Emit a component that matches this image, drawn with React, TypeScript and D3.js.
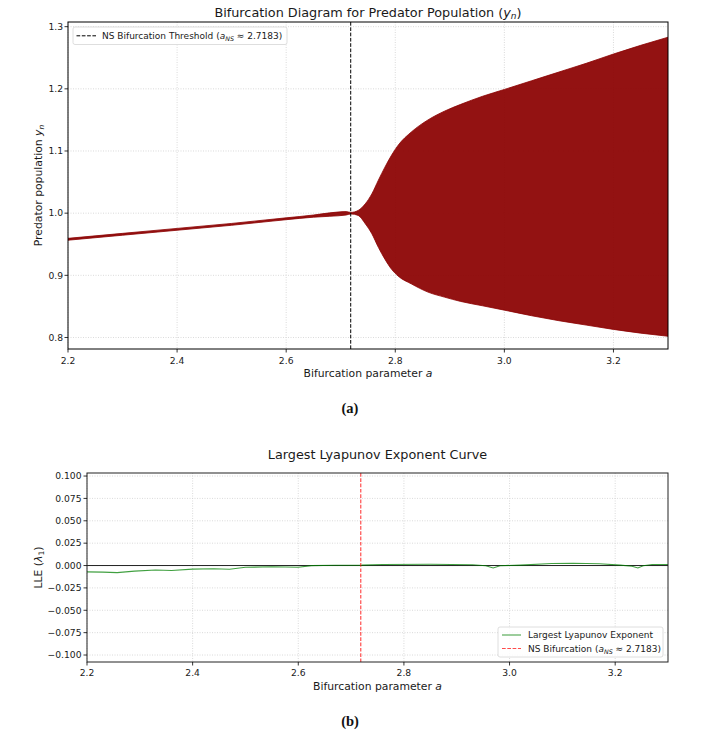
import React from "react";
import * as d3 from "d3";

// ---------- data ----------
const bifA = [2.2, 2.3, 2.4, 2.5, 2.6, 2.65, 2.68, 2.71, 2.7183, 2.732, 2.745, 2.757, 2.769, 2.781, 2.793, 2.805, 2.83, 2.86, 2.89, 2.92, 2.96, 3.0, 3.05, 3.1, 3.15, 3.2, 3.25, 3.3];
const bifUpper = [0.9595, 0.9675, 0.9755, 0.9835, 0.9925, 0.997, 1.0005, 1.0025, 1.0012, 1.0044, 1.015, 1.031, 1.053, 1.074, 1.093, 1.109, 1.131, 1.15, 1.164, 1.175, 1.188, 1.199, 1.213, 1.227, 1.241, 1.256, 1.27, 1.283];
const bifLower = [0.9565, 0.9645, 0.9725, 0.9805, 0.9895, 0.9935, 0.995, 0.997, 0.9988, 0.9964, 0.983, 0.967, 0.945, 0.926, 0.91, 0.899, 0.886, 0.873, 0.865, 0.858, 0.851, 0.844, 0.835, 0.827, 0.82, 0.813, 0.807, 0.802];

const lleA = [2.2, 2.23, 2.257, 2.29, 2.33, 2.36, 2.4, 2.44, 2.47, 2.5, 2.55, 2.6, 2.625, 2.67, 2.72, 2.76, 2.85, 2.93, 2.955, 2.969, 2.982, 3.02, 3.08, 3.12, 3.17, 3.21, 3.232, 3.243, 3.253, 3.27, 3.3];
const lleVals = [-0.0071, -0.0074, -0.0079, -0.0062, -0.005, -0.0055, -0.004, -0.0036, -0.0042, -0.002, -0.0014, -0.0019, -0.0001, 0.0003, 0.0005, 0.0012, 0.0014, 0.0008, -0.0002, -0.0027, -0.0002, 0.0005, 0.0022, 0.0026, 0.002, 0.0004, -0.0008, -0.0027, -0.0002, 0.0011, 0.0012];

const aNS = 2.7183;
const xTicks = [2.2, 2.4, 2.6, 2.8, 3.0, 3.2];
const yTicksTop = [0.8, 0.9, 1.0, 1.1, 1.2, 1.3];
const yTicksBottom = [-0.1, -0.075, -0.05, -0.025, 0, 0.025, 0.05, 0.075, 0.1];

const FONT = "DejaVu Sans, sans-serif";
const TXT = "#1a1a1a";
const GRID = "#d0d0d0";
const TITLE_FS = 12.8;
const LABEL_FS = 10.8;
const TICK_FS = 9.2;
const LEG_FS = 9;

const fmtMinus = (s: string) => s.replace("-", "\u2212");

function App() {
  // ---- top panel ----
  const T = { l: 68, r: 668, t: 22, b: 349 };
  const xT = d3.scaleLinear().domain([2.2, 3.3]).range([T.l, T.r]);
  const yT = d3.scaleLinear().domain([0.7815, 1.3075]).range([T.b, T.t]);
  const bifData = bifA.map((a, i) => ({ a, u: bifUpper[i], lo: bifLower[i] }));
  const area = d3
    .area<{ a: number; u: number; lo: number }>()
    .x((d) => xT(d.a))
    .y0((d) => yT(d.lo))
    .y1((d) => yT(d.u))
    .curve(d3.curveMonotoneX);

  // ---- bottom panel ----
  const B = { l: 87, r: 668, t: 473, b: 662 };
  const xB = d3.scaleLinear().domain([2.2, 3.3]).range([B.l, B.r]);
  const yB = d3.scaleLinear().domain([-0.1078, 0.1034]).range([B.b, B.t]);
  const lleLine = d3
    .line<number>()
    .x((_, i) => xB(lleA[i]))
    .y((d) => yB(d));

  return (
    <svg
      width={701}
      height={738}
      style={{ position: "absolute", left: 0, top: 0, background: "#fff" }}
      fontFamily={FONT}
    >
      <defs>
        <clipPath id="clipT">
          <rect x={T.l} y={T.t} width={T.r - T.l} height={T.b - T.t} />
        </clipPath>
        <clipPath id="clipB">
          <rect x={B.l} y={B.t} width={B.r - B.l} height={B.b - B.t} />
        </clipPath>
      </defs>

      {/* ================= TOP PANEL ================= */}
      <g>
        {xTicks.map((t) => (
          <line key={"gx" + t} x1={xT(t)} x2={xT(t)} y1={T.t} y2={T.b} stroke={GRID} strokeWidth={0.8} strokeDasharray="1,1.5" />
        ))}
        {yTicksTop.map((t) => (
          <line key={"gy" + t} x1={T.l} x2={T.r} y1={yT(t)} y2={yT(t)} stroke={GRID} strokeWidth={0.8} strokeDasharray="1,1.5" />
        ))}
        <path d={area(bifData) || ""} fill="#8b0000" fillOpacity={0.93} stroke="#8b0000" strokeWidth={0.8} clipPath="url(#clipT)" />
        <line x1={xT(aNS)} x2={xT(aNS)} y1={T.t} y2={T.b} stroke="#000" strokeWidth={1} strokeDasharray="3.7,1.6" />
        <rect x={T.l} y={T.t} width={T.r - T.l} height={T.b - T.t} fill="none" stroke="#000" strokeWidth={1} />
        {xTicks.map((t) => (
          <g key={"tx" + t}>
            <line x1={xT(t)} x2={xT(t)} y1={T.b} y2={T.b + 3.5} stroke="#000" strokeWidth={0.8} />
            <text x={xT(t)} y={T.b + 15} textAnchor="middle" fontSize={TICK_FS} fill={TXT}>
              {t.toFixed(1)}
            </text>
          </g>
        ))}
        {yTicksTop.map((t) => (
          <g key={"ty" + t}>
            <line x1={T.l - 3.5} x2={T.l} y1={yT(t)} y2={yT(t)} stroke="#000" strokeWidth={0.8} />
            <text x={T.l - 5} y={yT(t) + 3.3} textAnchor="end" fontSize={TICK_FS} fill={TXT}>
              {t.toFixed(1)}
            </text>
          </g>
        ))}
        <text x={(T.l + T.r) / 2} y={16.5} textAnchor="middle" fontSize={TITLE_FS} fill={TXT}>
          Bifurcation Diagram for Predator Population (
          <tspan fontStyle="italic">y</tspan>
          <tspan fontStyle="italic" fontSize={9} dy={2.7}>n</tspan>
          <tspan dy={-2.7}>)</tspan>
        </text>
        <text x={(T.l + T.r) / 2} y={376.5} textAnchor="middle" fontSize={LABEL_FS} fill={TXT}>
          Bifurcation parameter <tspan fontStyle="italic">a</tspan>
        </text>
        <text transform={`translate(41.5,${(T.t + T.b) / 2}) rotate(-90)`} textAnchor="middle" fontSize={LABEL_FS} fill={TXT}>
          Predator population <tspan fontStyle="italic">y</tspan>
          <tspan fontStyle="italic" fontSize={7.6} dy={2.4}>n</tspan>
        </text>
        <rect x={73} y={27} width={214} height={17.5} rx={2} fill="#fff" fillOpacity={0.85} stroke="#d5d5d5" strokeWidth={0.8} />
        <line x1={76.5} x2={96} y1={35.8} y2={35.8} stroke="#000" strokeWidth={1} strokeDasharray="3.7,1.6" />
        <text x={102} y={39} fontSize={LEG_FS} fill={TXT}>
          NS Bifurcation Threshold (<tspan fontStyle="italic">a</tspan>
          <tspan fontStyle="italic" fontSize={6.3} dy={2}>NS</tspan>
          <tspan dy={-2}> ≈ 2.7183)</tspan>
        </text>
        <text x={350} y={413} textAnchor="middle" fontFamily="Liberation Serif, serif" fontWeight="bold" fontSize={14.5} fill="#111">
          (a)
        </text>
      </g>

      {/* ================= BOTTOM PANEL ================= */}
      <g>
        {xTicks.map((t) => (
          <line key={"bgx" + t} x1={xB(t)} x2={xB(t)} y1={B.t} y2={B.b} stroke={GRID} strokeWidth={0.8} strokeDasharray="1,1.5" />
        ))}
        {yTicksBottom.map((t) => (
          <line key={"bgy" + t} x1={B.l} x2={B.r} y1={yB(t)} y2={yB(t)} stroke={GRID} strokeWidth={0.8} strokeDasharray="1,1.5" />
        ))}
        <line x1={B.l} x2={B.r} y1={yB(0)} y2={yB(0)} stroke="#222" strokeWidth={1} />
        <path d={lleLine(lleVals) || ""} fill="none" stroke="#008000" strokeOpacity={0.75} strokeWidth={1.1} clipPath="url(#clipB)" />
        <line x1={xB(aNS)} x2={xB(aNS)} y1={B.t} y2={B.b} stroke="#ff0000" strokeOpacity={0.7} strokeWidth={1.2} strokeDasharray="3.7,1.6" />
        <rect x={B.l} y={B.t} width={B.r - B.l} height={B.b - B.t} fill="none" stroke="#222" strokeWidth={1} />
        {xTicks.map((t) => (
          <g key={"btx" + t}>
            <line x1={xB(t)} x2={xB(t)} y1={B.b} y2={B.b + 3.5} stroke="#000" strokeWidth={0.8} />
            <text x={xB(t)} y={B.b + 13.8} textAnchor="middle" fontSize={TICK_FS} fill={TXT}>
              {t.toFixed(1)}
            </text>
          </g>
        ))}
        {yTicksBottom.map((t) => (
          <g key={"bty" + t}>
            <line x1={B.l - 3.5} x2={B.l} y1={yB(t)} y2={yB(t)} stroke="#000" strokeWidth={0.8} />
            <text x={B.l - 5.5} y={yB(t) + 3.3} textAnchor="end" fontSize={TICK_FS} fill={TXT}>
              {fmtMinus(t.toFixed(3))}
            </text>
          </g>
        ))}
        <text x={(B.l + B.r) / 2} y={459} textAnchor="middle" fontSize={TITLE_FS} fill={TXT}>
          Largest Lyapunov Exponent Curve
        </text>
        <text x={(B.l + B.r) / 2} y={689.5} textAnchor="middle" fontSize={LABEL_FS} fill={TXT}>
          Bifurcation parameter <tspan fontStyle="italic">a</tspan>
        </text>
        <text transform={`translate(41.5,${(B.t + B.b) / 2}) rotate(-90)`} textAnchor="middle" fontSize={LABEL_FS} fill={TXT}>
          LLE (<tspan fontStyle="italic">λ</tspan>
          <tspan fontSize={7.6} dy={2.4}>1</tspan>
          <tspan dy={-2.4}>)</tspan>
        </text>
        <rect x={498} y={627} width={165} height={30} rx={2} fill="#fff" fillOpacity={0.85} stroke="#d5d5d5" strokeWidth={0.8} />
        <line x1={502} x2={521} y1={635} y2={635} stroke="#008000" strokeOpacity={0.6} strokeWidth={1.3} />
        <text x={528} y={638.2} fontSize={LEG_FS} fill={TXT}>Largest Lyapunov Exponent</text>
        <line x1={502} x2={521} y1={648.5} y2={648.5} stroke="#ff0000" strokeOpacity={0.7} strokeWidth={1.2} strokeDasharray="3.7,1.6" />
        <text x={528} y={651.7} fontSize={LEG_FS} fill={TXT}>
          NS Bifurcation (<tspan fontStyle="italic">a</tspan>
          <tspan fontStyle="italic" fontSize={6.3} dy={2}>NS</tspan>
          <tspan dy={-2}> ≈ 2.7183)</tspan>
        </text>
        <text x={350} y={726} textAnchor="middle" fontFamily="Liberation Serif, serif" fontWeight="bold" fontSize={14.5} fill="#111">
          (b)
        </text>
      </g>
    </svg>
  );
}

export default App;
